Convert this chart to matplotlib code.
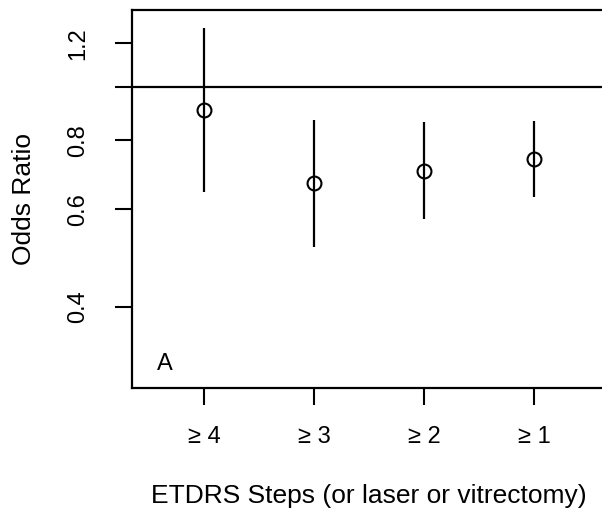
import matplotlib
matplotlib.use("Agg")
import matplotlib.pyplot as plt
import numpy as np

plt.rcParams['font.family'] = ['Liberation Sans', 'DejaVu Sans']

# odds ratios with 95% CI
steps = ['≥ 4', '≥ 3', '≥ 2', '≥ 1']
odds = [0.909, 0.670, 0.705, 0.741]
ci_low = [0.646, 0.514, 0.576, 0.632]
ci_high = [1.279, 0.872, 0.863, 0.868]

y_ticks = [0.4, 0.6, 0.8, 1.0, 1.2]
y_labels = ['0.4', '0.6', '0.8', '', '1.2']

fig = plt.figure(figsize=(6.02, 5.19), dpi=100)
ax = fig.add_axes([0.2193, 0.2524, 0.7874, 0.7283])

x = np.arange(1, len(steps) + 1)
ax.vlines(x, ci_low, ci_high, color='black', lw=1.6)
ax.plot(x, odds, 'o', ms=10, mfc='none', mec='black', mew=1.5, zorder=3)
ax.axhline(1.0, color='black', lw=1.6)

ax.set_yscale('log')
ax.set_ylim(0.285, 1.378)
ax.set_xlim(0.345, 4.655)

ax.yaxis.set_major_locator(matplotlib.ticker.FixedLocator(y_ticks))
ax.yaxis.set_minor_locator(matplotlib.ticker.NullLocator())
ax.set_yticks(y_ticks)
ax.set_yticklabels(y_labels, rotation=90, va='center', fontsize=17)
ax.set_xticks(x)
ax.set_xticklabels(steps, fontsize=17)
ax.tick_params(axis='y', length=12, width=1.5, pad=19)
ax.tick_params(axis='x', length=12, width=1.5, pad=15)

for s in ax.spines.values():
    s.set_linewidth(1.6)

ax.set_ylabel('Odds Ratio', fontsize=19)
ax.yaxis.label.set_va('baseline')
ax.yaxis.set_label_coords(-0.213, 0.5)
ax.set_xlabel('ETDRS Steps (or laser or vitrectomy)', fontsize=19)
ax.xaxis.label.set_va('baseline')
ax.xaxis.set_label_coords(0.5, -0.304)

ax.text(0.645, 0.3076, 'A', fontsize=17, ha='center', va='baseline')

fig.savefig('out.png', dpi=100)
